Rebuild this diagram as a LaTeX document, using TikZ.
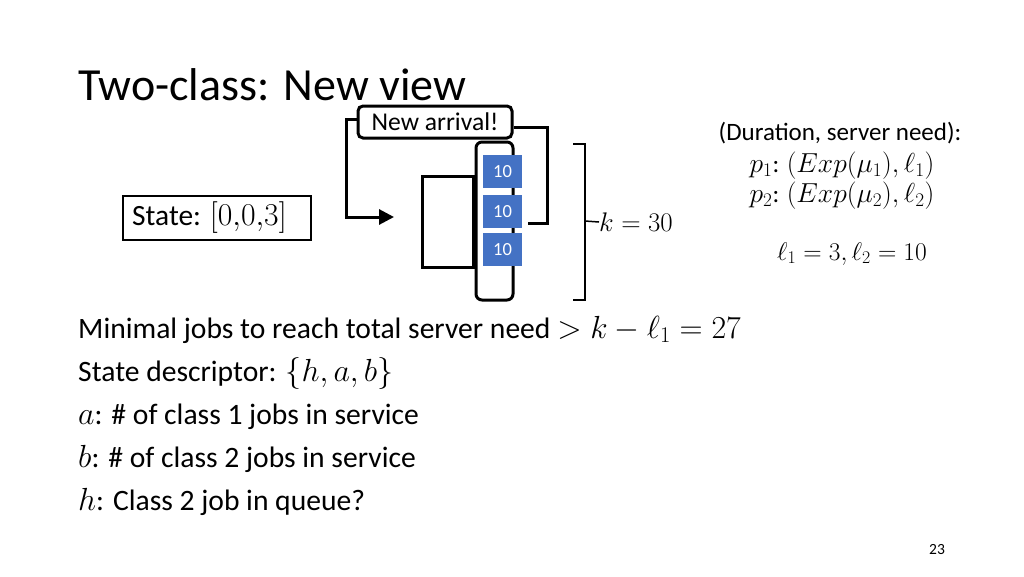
\RequirePackage{fix-cm}
\documentclass[tikz,border=0pt]{standalone}
\usepackage{fontspec}
\setmainfont{Carlito}
\usetikzlibrary{arrows.meta}
\definecolor{jobblue}{HTML}{4472C4}
\newcommand\sm[2]{\scalebox{#1}{$#2$}}
\tikzset{
  thick3/.style={line width=3pt},
  jobbox/.style={fill=jobblue, draw=none, text=white, font=\fontsize{18.5}{20}\selectfont, minimum width=39pt, minimum height=33pt, inner sep=0pt},
  bodytext/.style={anchor=base west, font=\fontsize{29.6}{34}\selectfont, inner sep=0pt},
  sidetext/.style={anchor=base, font=\fontsize{25}{28}\selectfont, inner sep=0pt},
}
\begin{document}
\begin{tikzpicture}[x=1pt,y=-1pt]
\useasboundingbox (0,0) rectangle (1024,576);
% title
\node[anchor=base west, inner sep=0pt, font=\fontsize{46}{54}\selectfont] (title) at (78,100) {Two-class: New view};
% new arrival box
\node[draw, thick3, rounded corners=5pt, minimum width=154pt, minimum height=32pt, inner sep=0pt, font=\fontsize{25.6}{28}\selectfont] (arr) at (435,122) {New arrival!};
% server
\node[draw, thick3, minimum width=51pt, minimum height=91pt, inner sep=0pt] (server) at (447.5,221.5) {};
% queue
\node[draw, thick3, rounded corners=6pt, minimum width=37pt, minimum height=158pt, inner sep=0pt] (queue) at (494.5,221) {};
% jobs
\node[jobbox] (j1) at (502.5,171.5) {10};
\node[jobbox] (j2) at (502.5,211.5) {10};
\node[jobbox] (j3) at (502.5,249.5) {10};
% connectors
\coordinate (tip) at (394,217);
\coordinate (ret) at (528,223);
\draw[thick3, -{Triangle[length=15pt,width=15pt]}] (arr.west |- 0,119) -| (346,168) |- (tip);
\draw[thick3] (arr.east |- 0,127) -| (547,175) |- (ret);
% state
\node[draw, line width=2pt, minimum width=188pt, minimum height=44pt, inner sep=0pt] (state) at (216.5,217.5) {};
\node[anchor=west, inner sep=0pt, font=\fontsize{29.4}{34}\selectfont] (statetxt) at (132,218) {State: \sm{1.08}{[0{,}0{,}3]}};
% brace
\draw[line width=1.5pt] (573,144) -- (585,144) -- (585,300) -- (573,300);
\coordinate (bmid) at (585,221);
\node[anchor=west, inner sep=0pt, font=\fontsize{25.6}{30}\selectfont] (kval) at (599,222) {\sm{1.05}{k=30}};
\draw[line width=1.5pt] (bmid) -- (kval.west);
% right text
\node[sidetext] (dur) at (840,140) {(Duration, server need):};
\node[sidetext] (p1) at (842,172) {\sm{1.1}{p_1}: \sm{1.1}{(Exp(\mu_1),\ell_1)}};
\node[sidetext] (p2) at (842,202) {\sm{1.1}{p_2}: \sm{1.1}{(Exp(\mu_2),\ell_2)}};
\node[sidetext] (ell) at (852,260) {\sm{1.02}{\ell_1=3,\ell_2=10}};
% bottom list
\node[bodytext] (l1) at (78,338) {Minimal jobs to reach total server need \sm{1.08}{>k-\ell_1=27}};
\node[bodytext] (l2) at (78,381) {State descriptor: \sm{1.08}{\{h,a,b\}}};
\node[bodytext] (l3) at (78,424) {\sm{1.08}{a}: \# of class 1 jobs in service};
\node[bodytext] (l4) at (78,467) {\sm{1.08}{b}: \# of class 2 jobs in service};
\node[bodytext] (l5) at (78,510) {\sm{1.08}{h}: Class 2 job in queue?};
% page number
\node[font=\fontsize{15.5}{18}\selectfont] (pg) at (937,550) {23};
\end{tikzpicture}
\end{document}
